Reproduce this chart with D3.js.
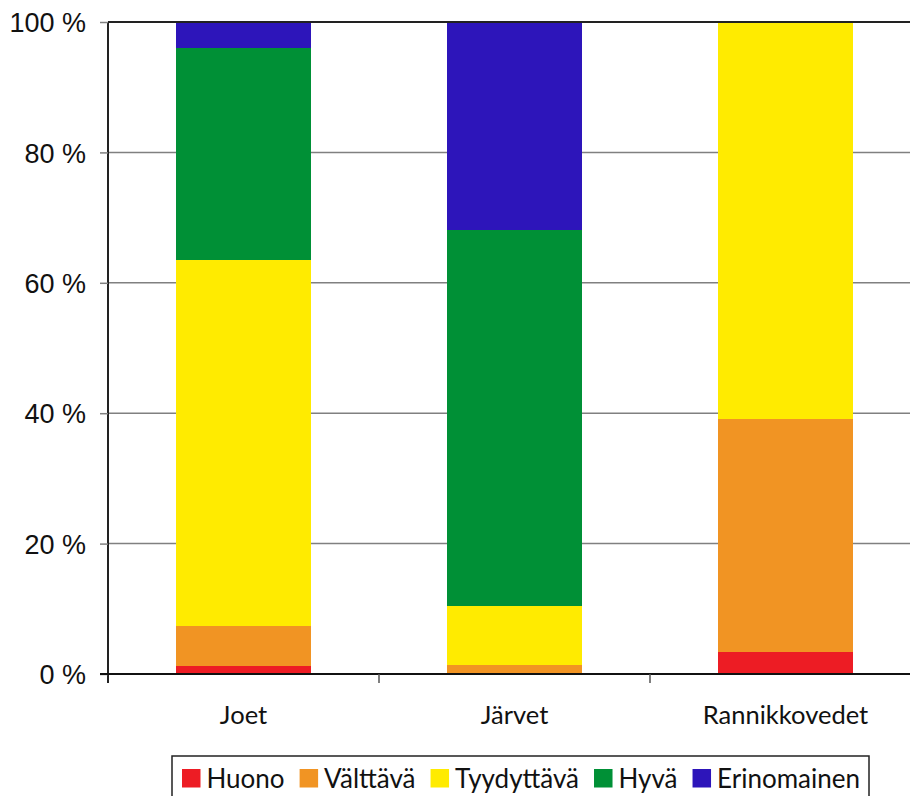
<!DOCTYPE html>
<html><head><meta charset="utf-8">
<script src="https://cdn.jsdelivr.net/npm/d3@7"></script>
<style>body{margin:0;background:#fff}svg{display:block}</style>
</head><body>
<svg id="c" width="910" height="796"></svg>
<script>
const categories = ["Joet", "Järvet", "Rannikkovedet"];
const seriesNames = ["Huono", "Välttävä", "Tyydyttävä", "Hyvä", "Erinomainen"];
const huono       = [1.3, 0.2, 3.4];
const valttava    = [6.1, 1.2, 35.7];
const tyydyttava  = [56.1, 9.1, 60.9];
const hyva        = [32.5, 57.6, 0];
const erinomainen = [4.0, 31.9, 0];
const yTicks = [0, 20, 40, 60, 80, 100];
const colors = ["#ED1C24", "#F19423", "#FFEB00", "#009036", "#2D15BA"];

const seriesValues = [huono, valttava, tyydyttava, hyva, erinomainen];
const rows = categories.map((c, i) => {
  const r = {cat: c};
  seriesNames.forEach((s, j) => r[s] = seriesValues[j][i]);
  return r;
});

const svg = d3.select("#c");
const L = 108, R = 921, T = 22, B = 674;
const x = d3.scaleBand().domain(categories).range([L, R]).paddingInner(0.5).paddingOuter(0.25);
const y = d3.scaleLinear().domain([0, 100]).range([B, T]);

// gridlines
svg.append("g").selectAll("line").data(yTicks.filter(t => t > 0 && t < 100)).join("line")
  .attr("x1", L).attr("x2", 910).attr("y1", d => y(d)).attr("y2", d => y(d))
  .attr("stroke", "#808080").attr("stroke-width", 1.5);

// bars
const stack = d3.stack().keys(seriesNames)(rows);
svg.append("g").selectAll("g").data(stack).join("g")
  .attr("fill", (d, i) => colors[i])
  .selectAll("rect").data(d => d).join("rect")
  .attr("x", d => x(d.data.cat))
  .attr("width", x.bandwidth())
  .attr("y", d => y(d[1]))
  .attr("height", d => y(d[0]) - y(d[1]))
  .attr("shape-rendering", "crispEdges");

// top border
svg.append("line").attr("x1", L).attr("x2", 910).attr("y1", y(100)).attr("y2", y(100))
  .attr("stroke", "#222").attr("stroke-width", 2);

// y axis
const yAxis = svg.append("g").attr("transform", `translate(${L},0)`)
  .call(d3.axisLeft(y).tickValues(yTicks).tickSize(8).tickPadding(14).tickFormat(d => d + " %"));
yAxis.select(".domain").attr("stroke", "#222").attr("stroke-width", 2).attr("d", `M0,${T}V${B + 9}`);
yAxis.selectAll(".tick line").attr("stroke", "#808080").attr("stroke-width", 1.5);
yAxis.selectAll(".tick text").attr("font-family", "'Liberation Sans', Arial, sans-serif")
  .attr("font-size", 27).attr("fill", "#111").attr("dy", "0.36em");

// x axis
const xAxis = svg.append("g").attr("transform", `translate(0,${B})`)
  .call(d3.axisBottom(x).tickSize(0).tickPadding(32));
xAxis.select(".domain").attr("stroke", "#111").attr("stroke-width", 2).attr("d", `M${L - 8},0H${R}`);
xAxis.selectAll(".tick text").attr("font-family", "Lato, sans-serif").attr("font-size", 25.5).attr("fill", "#111");
// category separator ticks
const sepX = categories.slice(1).map(c => x(c) - x.step() * x.paddingInner() / 2);
xAxis.append("g").selectAll("line").data(sepX).join("line")
  .attr("x1", d => d).attr("x2", d => d).attr("y1", 0).attr("y2", 9)
  .attr("stroke", "#555").attr("stroke-width", 1.5);

// legend
const lg = svg.append("g");
lg.append("rect").attr("x", 172).attr("y", 756).attr("width", 697).attr("height", 60)
  .attr("fill", "#fff").attr("stroke", "#222").attr("stroke-width", 1.5);
let cx = 182;
seriesNames.forEach((s, i) => {
  lg.append("rect").attr("x", cx).attr("y", 769).attr("width", 18.5).attr("height", 18.5).attr("fill", colors[i]);
  const t = lg.append("text").attr("x", cx + 24.5).attr("y", 787.5).text(s)
    .attr("font-family", "Lato, sans-serif").attr("font-size", 26).attr("fill", "#111");
  cx += 24.5 + t.node().getComputedTextLength() + 15;
});
</script>
</body></html>
